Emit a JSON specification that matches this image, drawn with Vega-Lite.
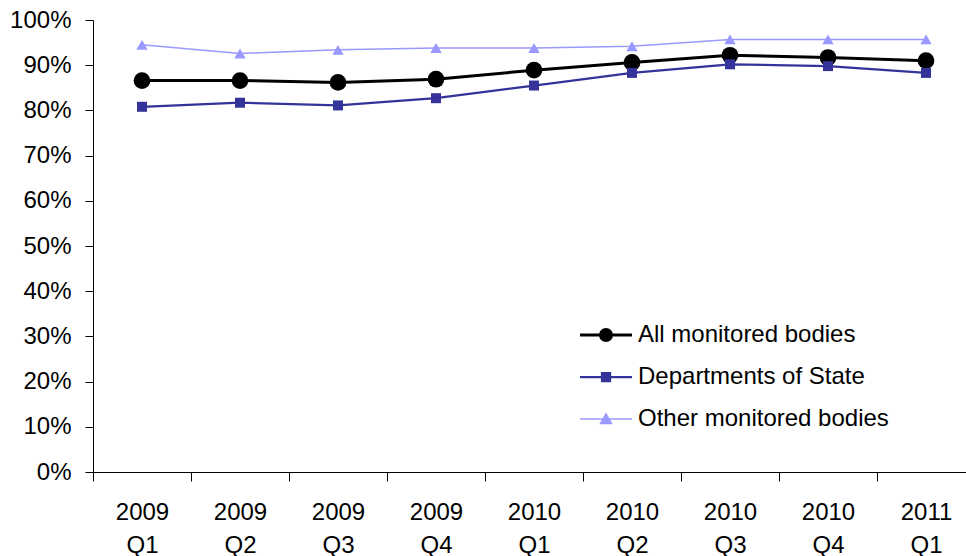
{
  "$schema": "https://vega.github.io/schema/vega-lite/v6.json",
  "width": 873,
  "height": 452,
  "autosize": {"type": "none"},
  "padding": {"left": 93, "top": 20, "right": 0, "bottom": 84},
  "background": "white",
  "config": {
    "view": {"stroke": null},
    "font": "Liberation Sans",
    "axis": {"labelFont": "Liberation Sans", "labelFontSize": 24, "labelColor": "black", "domainColor": "black", "tickColor": "black", "grid": false, "title": null}
  },
  "data": {
    "values": [
      {"quarter": "2009 Q1", "series": "All monitored bodies", "value": 0.866},
      {"quarter": "2009 Q2", "series": "All monitored bodies", "value": 0.866},
      {"quarter": "2009 Q3", "series": "All monitored bodies", "value": 0.862},
      {"quarter": "2009 Q4", "series": "All monitored bodies", "value": 0.869},
      {"quarter": "2010 Q1", "series": "All monitored bodies", "value": 0.889},
      {"quarter": "2010 Q2", "series": "All monitored bodies", "value": 0.906},
      {"quarter": "2010 Q3", "series": "All monitored bodies", "value": 0.922},
      {"quarter": "2010 Q4", "series": "All monitored bodies", "value": 0.917},
      {"quarter": "2011 Q1", "series": "All monitored bodies", "value": 0.910},
      {"quarter": "2009 Q1", "series": "Departments of State", "value": 0.808},
      {"quarter": "2009 Q2", "series": "Departments of State", "value": 0.817},
      {"quarter": "2009 Q3", "series": "Departments of State", "value": 0.811},
      {"quarter": "2009 Q4", "series": "Departments of State", "value": 0.827},
      {"quarter": "2010 Q1", "series": "Departments of State", "value": 0.855},
      {"quarter": "2010 Q2", "series": "Departments of State", "value": 0.883},
      {"quarter": "2010 Q3", "series": "Departments of State", "value": 0.902},
      {"quarter": "2010 Q4", "series": "Departments of State", "value": 0.898},
      {"quarter": "2011 Q1", "series": "Departments of State", "value": 0.883},
      {"quarter": "2009 Q1", "series": "Other monitored bodies", "value": 0.945},
      {"quarter": "2009 Q2", "series": "Other monitored bodies", "value": 0.926},
      {"quarter": "2009 Q3", "series": "Other monitored bodies", "value": 0.934},
      {"quarter": "2009 Q4", "series": "Other monitored bodies", "value": 0.938},
      {"quarter": "2010 Q1", "series": "Other monitored bodies", "value": 0.938},
      {"quarter": "2010 Q2", "series": "Other monitored bodies", "value": 0.942},
      {"quarter": "2010 Q3", "series": "Other monitored bodies", "value": 0.957},
      {"quarter": "2010 Q4", "series": "Other monitored bodies", "value": 0.957},
      {"quarter": "2011 Q1", "series": "Other monitored bodies", "value": 0.957}
    ]
  },
  "encoding": {
    "x": {
      "field": "quarter",
      "type": "ordinal",
      "sort": null,
      "scale": {"type": "band", "range": [0, 882], "paddingInner": 0, "paddingOuter": 0},
      "axis": {
        "tickBand": "extent",
        "tickSize": 9,
        "labelAngle": 0,
        "labelPadding": 19,
        "labelLineHeight": 33,
        "labelExpr": "split(datum.label, ' ')"
      }
    },
    "y": {
      "field": "value",
      "type": "quantitative",
      "scale": {"domain": [0, 1], "nice": false},
      "axis": {"values": [0, 0.1, 0.2, 0.3, 0.4, 0.5, 0.6, 0.7, 0.8, 0.9, 1], "format": ".0%", "tickSize": 8, "labelPadding": 14}
    }
  },
  "layer": [
    {
      "mark": {"type": "point", "filled": true, "opacity": 0},
      "encoding": {
        "fill": {
          "field": "series",
          "type": "nominal",
          "scale": {"domain": ["All monitored bodies", "Departments of State", "Other monitored bodies"], "range": ["#000000", "#333399", "#9999ff"]},
          "legend": {
            "title": null,
            "orient": "none",
            "legendX": 501,
            "legendY": 303,
            "padding": 0,
            "symbolSize": 400,
            "symbolOpacity": 1,
            "symbolFillColor": "#000000",
            "symbolOffset": 0,
            "labelOffset": 20,
            "labelFont": "Liberation Sans",
            "labelFontSize": 24,
            "labelColor": "black",
            "labelLimit": 400,
            "rowPadding": 18
          }
        },
        "shape": {
          "field": "series",
          "type": "nominal",
          "scale": {"domain": ["All monitored bodies", "Departments of State", "Other monitored bodies"], "range": ["M-2.6,0H2.6M0.55,0A0.55,0.55,0,1,1,-0.55,0A0.55,0.55,0,1,1,0.55,0Z", "M-2.6,0H2.6M-0.4,-0.4H0.4V0.4H-0.4Z", "M-2.6,0H2.6M0,-0.5L0.55,0.45H-0.55Z"]},
          "legend": {"title": null, "symbolFillColor": "#000000"}
        },
        "stroke": {
          "field": "series",
          "type": "nominal",
          "scale": {"domain": ["All monitored bodies", "Departments of State", "Other monitored bodies"], "range": ["#000000", "#333399", "#9999ff"]},
          "legend": {"title": null, "symbolFillColor": "#000000"}
        },
        "strokeWidth": {
          "field": "series",
          "type": "nominal",
          "scale": {"domain": ["All monitored bodies", "Departments of State", "Other monitored bodies"], "range": [3, 1.5, 1.5]},
          "legend": {"title": null, "symbolFillColor": "#000000"}
        }
      }
    },
    {
      "mark": {"type": "line"},
      "encoding": {
        "color": {
          "field": "series",
          "type": "nominal",
          "scale": {"domain": ["All monitored bodies", "Departments of State", "Other monitored bodies"], "range": ["#000000", "#333399", "#9999ff"]},
          "legend": null
        },
        "strokeWidth": {"field": "series", "type": "nominal", "legend": null}
      }
    },
    {
      "transform": [{"filter": "datum.series == 'All monitored bodies'"}],
      "mark": {"type": "point", "filled": true, "opacity": 1, "shape": "circle", "size": 280, "color": "#000000"}
    },
    {
      "transform": [{"filter": "datum.series == 'Departments of State'"}],
      "mark": {"type": "point", "filled": true, "opacity": 1, "shape": "square", "size": 100, "color": "#333399"}
    },
    {
      "transform": [{"filter": "datum.series == 'Other monitored bodies'"}],
      "mark": {"type": "point", "filled": true, "opacity": 1, "shape": "triangle-up", "size": 130, "color": "#9999ff"}
    }
  ]
}
